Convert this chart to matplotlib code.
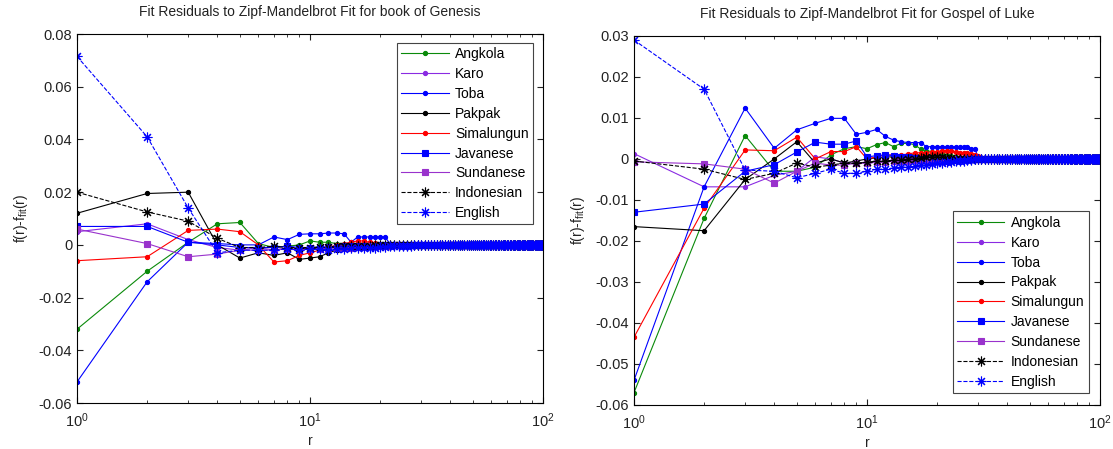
import numpy as np
import matplotlib.pyplot as plt
from matplotlib.ticker import FuncFormatter

plt.rcParams['font.family'] = ['Liberation Sans', 'DejaVu Sans']
plt.rcParams['axes.unicode_minus'] = False
plt.rcParams['mathtext.default'] = 'regular'

# rank r = 1..100; values read for the first 30 ranks, rest sit on zero
ranks = np.arange(1, 101)
tail = [0.0] * 70

names = ['Angkola', 'Karo', 'Toba', 'Pakpak', 'Simalungun',
         'Javanese', 'Sundanese', 'Indonesian', 'English']

# book of Genesis
angkola_g = [-0.032, -0.010, 0.001, 0.008, 0.0085, 0.0005, -0.001, -0.0005, 0.0, 0.0015,
             0.001, 0.001, 0.0005, 0.0003, 0.0002, 0.0002, 0.0001, 0.0, 0.0, 0.0,
             0.0, 0.0, 0.0, 0.0, 0.0, 0.0, 0.0, 0.0, 0.0, 0.0]
karo_g = [0.005, 0.008, 0.002, -0.001, -0.002, -0.001, -0.002, -0.001, -0.0015, -0.001,
          -0.001, -0.001, -0.001, -0.0008, -0.0008, -0.0006, -0.0006, -0.0005, -0.0005, -0.0004,
          -0.0004, -0.0003, -0.0003, -0.0002, -0.0002, -0.0001, 0.0, 0.0, 0.0, 0.0]
toba_g = [-0.052, -0.014, 0.001, 0.0005, 0.0, 0.0, 0.003, 0.002, 0.004, 0.0042,
          0.0042, 0.0045, 0.0045, 0.0042, 0.001, 0.003, 0.003, 0.003, 0.003, 0.003,
          0.003, 0.0005, 0.0003, 0.0002, 0.0, 0.0, 0.0, 0.0, 0.0, 0.0]
pakpak_g = [0.012, 0.0195, 0.020, 0.0, -0.005, -0.003, -0.004, -0.003, -0.0055, -0.005,
            -0.0045, -0.003, -0.002, -0.0015, -0.001, -0.001, -0.0008, -0.0006, -0.0005, -0.0004,
            -0.0003, -0.0002, -0.0001, 0.0, 0.0, 0.0, 0.0, 0.0, 0.0, 0.0]
simalungun_g = [-0.006, -0.0045, 0.0055, 0.006, 0.005, 0.0, -0.0065, -0.006, -0.004, -0.003,
                -0.002, -0.001, 0.0, 0.0005, 0.001, 0.0015, 0.0015, 0.001, 0.0008, 0.0005,
                0.0003, 0.0002, 0.0, 0.0, 0.0, 0.0, 0.0, 0.0, 0.0, 0.0]
javanese_g = [0.007, 0.007, 0.001, 0.0, -0.001, -0.001, -0.001, -0.0005, -0.001, -0.001,
              -0.001, -0.0008, -0.0008, -0.0006, -0.0005, -0.0005, -0.0004, -0.0003, -0.0003, -0.0002,
              -0.0002, -0.0001, 0.0, 0.0, 0.0, 0.0, 0.0, 0.0, 0.0, 0.0]
sundanese_g = [0.006, 0.0005, -0.0045, -0.0035, -0.002, -0.002, -0.002, -0.0015, -0.002, -0.0015,
               -0.0015, -0.0012, -0.0012, -0.001, -0.001, -0.0008, -0.0008, -0.0006, -0.0005, -0.0005,
               -0.0004, -0.0003, -0.0002, -0.0002, -0.0001, 0.0, 0.0, 0.0, 0.0, 0.0]
indonesian_g = [0.020, 0.0125, 0.009, 0.0025, -0.001, -0.001, -0.0005, -0.001, -0.001, -0.001,
                -0.0008, -0.0008, -0.0006, -0.0005, -0.0005, -0.0004, -0.0003, -0.0003, -0.0002, -0.0002,
                -0.0001, 0.0, 0.0, 0.0, 0.0, 0.0, 0.0, 0.0, 0.0, 0.0]
english_g = [0.0715, 0.041, 0.014, -0.003, -0.002, -0.002, -0.002, -0.0015, -0.002, -0.0015,
             -0.0015, -0.002, -0.0015, -0.0015, -0.0012, -0.0012, -0.001, -0.001, -0.001, -0.0008,
             -0.0008, -0.0006, -0.0006, -0.0005, -0.0005, -0.0004, -0.0003, -0.0002, -0.0001, 0.0]

# Gospel of Luke
angkola_l = [-0.057, -0.0145, 0.0057, -0.003, -0.003, -0.002, 0.001, 0.0025, 0.003, 0.0025,
             0.0035, 0.004, 0.003, 0.0038, 0.0038, 0.0035, 0.0024, 0.002, 0.0018, 0.0015,
             0.0012, 0.001, 0.0008, 0.0005, 0.0003, 0.0002, 0.0, 0.0, 0.0, 0.0]
karo_l = [0.0013, -0.0068, -0.0068, -0.004, -0.003, 0.0005, 0.0, -0.001, -0.001, -0.001,
          -0.0008, -0.0005, -0.0005, -0.0004, -0.0003, -0.0003, -0.0002, -0.0002, -0.0001, 0.0,
          0.0, 0.0, 0.0, 0.0, 0.0, 0.0, 0.0, 0.0, 0.0, 0.0]
toba_l = [-0.054, -0.0068, 0.0124, 0.0026, 0.0071, 0.0087, 0.0099, 0.0099, 0.006, 0.0065,
          0.0072, 0.0055, 0.0046, 0.0042, 0.004, 0.004, 0.004, 0.003, 0.003, 0.003,
          0.003, 0.003, 0.003, 0.003, 0.003, 0.0028, 0.0028, 0.0025, 0.0025, 0.0005]
pakpak_l = [-0.0165, -0.0175, -0.005, 0.0, 0.0042, -0.001, 0.0, -0.001, -0.0005, 0.0,
            0.0003, 0.0005, 0.0005, 0.0008, 0.001, 0.001, 0.001, 0.0008, 0.0006, 0.0005,
            0.0004, 0.0003, 0.0002, 0.0001, 0.0, 0.0, 0.0, 0.0, 0.0, 0.0]
simalungun_l = [-0.0435, -0.012, 0.0022, 0.002, 0.0053, 0.0, 0.0018, 0.0018, 0.003, 0.0,
                0.0005, 0.001, 0.001, 0.001, 0.0012, 0.0015, 0.0015, 0.0015, 0.0018, 0.0018,
                0.002, 0.002, 0.002, 0.0018, 0.0015, 0.0015, 0.0015, 0.0012, 0.001, 0.0008]
javanese_l = [-0.013, -0.011, -0.003, -0.0014, 0.0017, 0.0041, 0.0036, 0.0036, 0.0044, 0.0005,
              0.0008, 0.001, 0.0008, 0.0005, 0.0005, 0.0002, 0.0, -0.0003, -0.0005, -0.0005,
              -0.0005, -0.0004, -0.0003, -0.0002, -0.0001, 0.0, 0.0, 0.0, 0.0, 0.0]
sundanese_l = [-0.0007, -0.0012, -0.0025, -0.0059, -0.003, -0.001, -0.0015, -0.0015, -0.001, -0.001,
               -0.0008, -0.0008, -0.0005, -0.0005, -0.0004, -0.0003, -0.0003, -0.0002, -0.0001, 0.0,
               0.0, 0.0, 0.0, 0.0, 0.0, 0.0, 0.0, 0.0, 0.0, 0.0]
indonesian_l = [-0.0005, -0.0025, -0.005, -0.0035, -0.001, -0.002, -0.0015, -0.001, -0.001, -0.0008,
                -0.0005, -0.0005, -0.0003, -0.0002, -0.0001, 0.0, 0.0003, 0.0005, 0.0005, 0.0005,
                0.0004, 0.0003, 0.0002, 0.0001, 0.0, 0.0, 0.0, 0.0, 0.0, 0.0]
english_l = [0.029, 0.017, -0.0027, -0.003, -0.0046, -0.0035, -0.0025, -0.0035, -0.0035, -0.003,
             -0.0025, -0.0025, -0.0022, -0.002, -0.002, -0.0018, -0.0015, -0.0015, -0.0012, -0.001,
             -0.001, -0.0008, -0.0008, -0.0005, -0.0005, -0.0004, -0.0003, -0.0002, -0.0001, 0.0]

genesis = [angkola_g, karo_g, toba_g, pakpak_g, simalungun_g,
           javanese_g, sundanese_g, indonesian_g, english_g]
luke = [angkola_l, karo_l, toba_l, pakpak_l, simalungun_l,
        javanese_l, sundanese_l, indonesian_l, english_l]

colors = ['#0a8a0a', '#8a2be2', '#0000ff', '#000000', '#ff0000',
          '#0000ff', '#9932cc', '#000000', '#0000ff']
markers = ['o', 'o', 'o', 'o', 'o', 's', 's', (8, 2, 0), (8, 2, 0)]
msizes = [3, 3, 3, 3, 3, 4.5, 4.5, 7, 7]
styles = ['-'] * 7 + ['--', '--']

fig = plt.figure(figsize=(11.13, 4.49), dpi=100)
ax1 = fig.add_axes([0.0692, 0.1024, 0.4187, 0.8218])
ax2 = fig.add_axes([0.5696, 0.098, 0.4187, 0.822])

tick_fmt = FuncFormatter(lambda v, p: '%g' % round(v, 4))
txt = '#222222'


def draw(ax, data, title, ylim, yticks, loc, anchor):
    for vals, name, c, m, ms, ls in zip(data, names, colors, markers, msizes, styles):
        ax.plot(ranks, list(vals) + tail, color=c, marker=m, markersize=ms,
                linestyle=ls, linewidth=0.8, markeredgewidth=0.8, label=name)
    ax.set_xscale('log')
    ax.set_xlim(1, 100)
    ax.set_ylim(*ylim)
    ax.set_yticks(yticks)
    ax.yaxis.set_major_formatter(tick_fmt)
    ax.tick_params(which='both', direction='in', top=True, right=True,
                   labelsize=10.5, colors=txt)
    ax.tick_params(axis='x', which='major', pad=6)
    ax.tick_params(which='major', length=4)
    ax.tick_params(which='minor', length=2.5)
    for s in ax.spines.values():
        s.set_linewidth(0.8)
    ax.set_title(title, fontsize=10, color=txt, pad=13)
    ax.set_xlabel('r', fontsize=10, color=txt, labelpad=3)
    ax.set_ylabel('f(r)-f$_{fit}$(r)', fontsize=10, color=txt, labelpad=6)
    leg = ax.legend(loc=loc, bbox_to_anchor=anchor, fontsize=10, handlelength=3.4,
                    labelspacing=0.42, borderpad=0.32, handletextpad=0.45,
                    borderaxespad=0, fancybox=False, framealpha=1)
    leg.get_frame().set_edgecolor('#444444')
    leg.get_frame().set_linewidth(0.8)


draw(ax1, genesis, 'Fit Residuals to Zipf-Mandelbrot Fit for book of Genesis',
     (-0.06, 0.08), np.arange(-0.06, 0.081, 0.02), 'upper right', (0.9785, 0.976))
draw(ax2, luke, 'Fit Residuals to Zipf-Mandelbrot Fit for Gospel of Luke',
     (-0.06, 0.03), np.arange(-0.06, 0.031, 0.01), 'lower right', (0.976, 0.0325))

plt.savefig('out.png', dpi=100)
